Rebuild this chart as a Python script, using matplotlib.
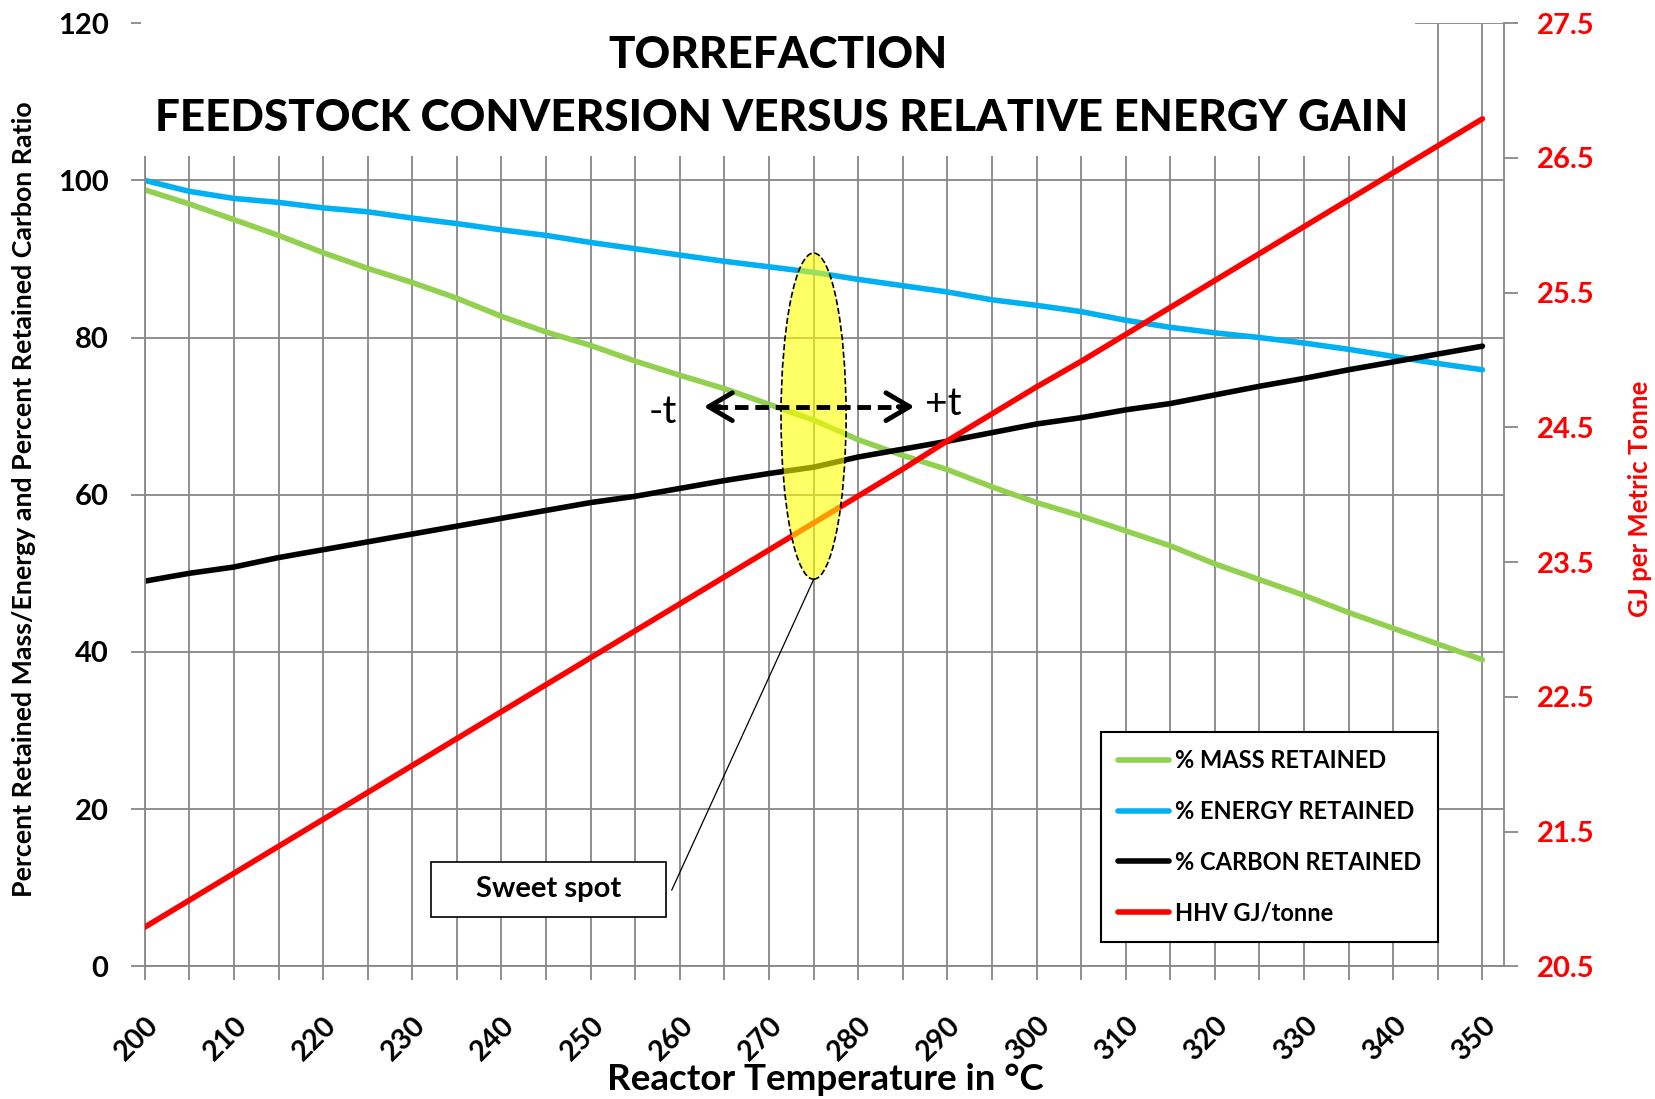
import numpy as np
import matplotlib.pyplot as plt
from matplotlib.patches import Ellipse, Rectangle

plt.rcParams['font.family'] = ['Lato', 'DejaVu Sans']
plt.rcParams['font.weight'] = 'bold'

# --------- Data ---------
temps = list(range(200, 355, 5))
mass = [98.8, 97, 95, 93, 90.8, 88.8, 87, 85, 82.7, 80.7, 79, 77, 75.2, 73.5, 71.5, 69.5,
        67, 65, 63.2, 61, 59, 57.3, 55.4, 53.5, 51.2, 49.2, 47.2, 45, 43, 41, 39]
energy = [100, 98.6, 97.7, 97.2, 96.5, 96, 95.2, 94.5, 93.7, 93, 92.1, 91.3, 90.5, 89.7, 89, 88.3,
          87.4, 86.6, 85.8, 84.8, 84.1, 83.3, 82.2, 81.3, 80.6, 80, 79.3, 78.5, 77.6, 76.7, 75.9]
carbon = [49, 50, 50.8, 52, 53, 54, 55, 56, 57, 58, 59, 59.8, 60.8, 61.8, 62.7, 63.5,
          64.8, 65.8, 66.8, 67.9, 69, 69.8, 70.8, 71.6, 72.7, 73.8, 74.8, 75.9, 76.9, 77.9, 78.9]
hhv = [20.79, 20.99, 21.19, 21.39, 21.59, 21.79, 21.99, 22.19, 22.39, 22.59, 22.79, 22.99, 23.19,
       23.39, 23.59, 23.79, 23.99, 24.19, 24.40, 24.60, 24.80, 24.99, 25.19, 25.39, 25.59, 25.79,
       25.99, 26.19, 26.39, 26.59, 26.79]

labels = ['% MASS RETAINED', '% ENERGY RETAINED', '% CARBON RETAINED', 'HHV GJ/tonne']
x_ticks = list(range(200, 351, 10))
left_ticks = list(range(0, 121, 20))
right_ticks = [20.5, 21.5, 22.5, 23.5, 24.5, 25.5, 26.5, 27.5]

grid_c = '#878787'

# --------- Figure ---------
fig = plt.figure(figsize=(16.56, 10.99), dpi=100)
ax = fig.add_axes([0.0874, 0.1208, 0.8207, 0.8581])
ax.set_xlim(200, 352.4)
ax.set_ylim(0, 120)
ax.set_xticks(x_ticks)
ax.set_xticks(list(range(205, 351, 10)), minor=True)
ax.set_yticks(left_ticks)
ax.grid(which='both', color=grid_c, lw=1.3)
ax.set_axisbelow(True)
ax.tick_params(axis='both', which='both', direction='out', length=10, width=1.3,
               color=grid_c, labelsize=21)
ax.tick_params(axis='y', pad=16)
ax.tick_params(axis='x', pad=23, labelsize=20.5)
ax.set_xticklabels([str(t) for t in x_ticks], rotation=45, ha='right', va='top',
                   rotation_mode='anchor')
for s in ['top', 'right']:
    ax.spines[s].set_visible(False)
for s in ['left', 'bottom']:
    ax.spines[s].set_color(grid_c)
    ax.spines[s].set_linewidth(1.3)

l1, = ax.plot(temps, mass, color='#92D050', lw=4, solid_capstyle='round')
l2, = ax.plot(temps, energy, color='#00B0F0', lw=4, solid_capstyle='round')
l3, = ax.plot(temps, carbon, color='black', lw=4, solid_capstyle='round')

ax2 = ax.twinx()
ax2.set_ylim(20.5, 27.5)
ax2.set_yticks(right_ticks)
ax2.set_yticklabels([f'{t:.1f}' for t in right_ticks], color='red')
ax2.tick_params(axis='y', direction='out', length=10, width=1.3, color=grid_c, labelsize=21,
                pad=14)
for s in ['top', 'left', 'bottom']:
    ax2.spines[s].set_visible(False)
ax2.spines['right'].set_color(grid_c)
ax2.spines['right'].set_linewidth(1.3)
l4, = ax2.plot(temps, hhv, color='red', lw=4, solid_capstyle='round')

# white title area covering the top of the plot
ax2.add_patch(Rectangle((199.6, 103.1), 342.4 - 199.6, 18, transform=ax.transData,
                        fc='white', ec='none', zorder=5, clip_on=False))

# sweet spot ellipse + arrow
ax2.add_patch(Ellipse((275, 70), 7.3, 41.5, transform=ax.transData, fc=(1, 1, 0, 0.6),
                      ec='black', ls='--', lw=1.2, zorder=6))
ax2.plot([263.8, 285.2], [71.2, 71.2], transform=ax.transData, color='black',
         ls=(0, (2.8, 1.4)), lw=3.5, zorder=7)
for tip, tail in [(262.7, 264.5), (286.3, 284.5)]:
    ax2.annotate('', xy=(tip, 71.2), xytext=(tail, 71.2), xycoords=ax.transData,
                 textcoords=ax.transData, zorder=7,
                 arrowprops=dict(arrowstyle='->,head_length=0.85,head_width=0.5',
                                 lw=3.5, color='black', mutation_scale=20,
                                 shrinkA=0, shrinkB=0))
ax2.text(258.1, 70.5, '-t', transform=ax.transData, fontsize=28, fontweight='normal',
         ha='center', va='center', zorder=7)
ax2.text(289.5, 71.5, '+t', transform=ax.transData, fontsize=28, fontweight='normal',
         ha='center', va='center', zorder=7)

# sweet spot callout
ax2.add_patch(Rectangle((232.1, 6.3), 26.4, 7.0, transform=ax.transData, fc='white',
                        ec='black', lw=1.2, zorder=7))
ax2.text(245.3, 9.8, 'Sweet spot', transform=ax.transData, fontsize=21, ha='center',
         va='center', zorder=8)
ax2.plot([259.1, 275], [9.7, 49.2], transform=ax.transData, color='black', lw=0.9, zorder=7)

# legend
leg = ax2.legend([l1, l2, l3, l4], labels, loc='upper left', bbox_to_anchor=(0.665, 0.334),
                 bbox_transform=fig.transFigure, frameon=True, fancybox=False,
                 edgecolor='black', framealpha=1, fontsize=17, handlelength=2.15,
                 handletextpad=0.25, labelspacing=1.18, borderpad=0.72, borderaxespad=0)
leg.get_frame().set_linewidth(1.5)
leg.set_zorder(10)

# titles and axis labels
fig.text(778 / 1656, 1 - 55 / 1099, 'TORREFACTION', ha='center', va='center', fontsize=31.7,
         fontweight='black')
fig.text(782 / 1656, 1 - 118 / 1099, 'FEEDSTOCK CONVERSION VERSUS RELATIVE ENERGY GAIN',
         ha='center', va='center', fontsize=31.7, fontweight='black')
fig.text(825 / 1656, 1 - 1080 / 1099, 'Reactor Temperature in \u00b0C',
         ha='center', va='center', fontsize=26.5)
fig.text(24 / 1656, 1 - 499 / 1099,
         'Percent Retained Mass/Energy and Percent Retained Carbon Ratio',
         ha='center', va='center', rotation=90, fontsize=19.3)
fig.text(1640 / 1656, 1 - 499 / 1099, 'GJ per Metric Tonne', ha='center', va='center',
         rotation=90, fontsize=18.5, color='red')

plt.savefig('out.png', dpi=100)
